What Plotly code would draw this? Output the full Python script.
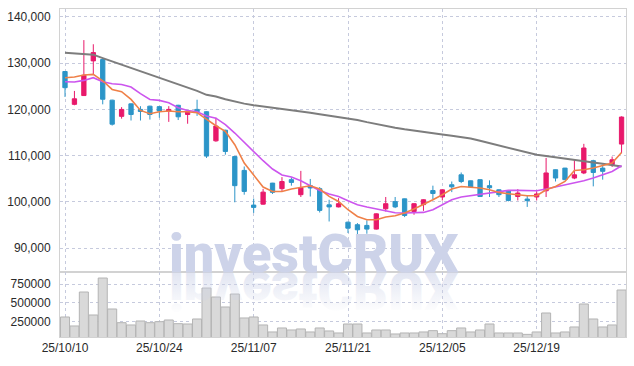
import plotly.graph_objects as go
from plotly.subplots import make_subplots

dates = [
    "2025-10-10", "2025-10-13", "2025-10-14", "2025-10-15", "2025-10-16", "2025-10-17",
    "2025-10-20", "2025-10-21", "2025-10-22", "2025-10-23", "2025-10-24",
    "2025-10-27", "2025-10-28", "2025-10-29", "2025-10-30", "2025-10-31",
    "2025-11-03", "2025-11-04", "2025-11-05", "2025-11-06", "2025-11-07",
    "2025-11-10", "2025-11-11", "2025-11-12", "2025-11-13", "2025-11-14",
    "2025-11-17", "2025-11-18", "2025-11-19", "2025-11-20", "2025-11-21",
    "2025-11-24", "2025-11-25", "2025-11-26", "2025-11-27", "2025-11-28",
    "2025-12-01", "2025-12-02", "2025-12-03", "2025-12-04", "2025-12-05",
    "2025-12-08", "2025-12-09", "2025-12-10", "2025-12-11", "2025-12-12",
    "2025-12-15", "2025-12-16", "2025-12-17", "2025-12-18", "2025-12-19",
    "2025-12-22", "2025-12-23", "2025-12-24", "2025-12-26", "2025-12-29",
    "2025-12-30", "2026-01-02", "2026-01-05", "2026-01-06",
]

opens = [128200, 121100, 123000, 130500, 130800, 122000, 118500, 121200, 120000, 120700,
         120600, 119650, 120900, 118900, 120000, 119500, 113200, 115500, 109800, 106800,
         99300, 99500, 104050, 102850, 104800, 101550, 103500, 102850, 99350, 98900,
         95600, 95050, 94900, 94100, 98500, 100050, 100650, 97900, 99400, 102450,
         101050, 103700, 105850, 104550, 104800, 103500, 102600, 102450, 101150, 100600,
         101050, 102400, 106950, 107300, 105150, 106250, 108900, 107300, 108050, 112500]
highs = [128300, 124000, 135000, 134100, 131000, 122100, 120500, 121300, 120700, 120800,
         120700, 120700, 121000, 119900, 122100, 119600, 118200, 115600, 109900, 107650,
         100700, 102800, 104100, 105350, 105300, 106700, 104950, 103200, 100450, 100800,
         95700, 95400, 96000, 97500, 101050, 101050, 100700, 99700, 100550, 103500,
         102700, 104400, 106350, 104600, 104850, 104650, 102700, 102500, 102750, 101300,
         102250, 109500, 107000, 107350, 109250, 112550, 109100, 108050, 109800, 118500]
lows = [122700, 120900, 122900, 127600, 121100, 116500, 118000, 117600, 117600, 117800,
        118200, 117300, 117700, 116900, 118600, 109500, 113000, 110200, 99900, 101550,
        97600, 99400, 101700, 102200, 103500, 101050, 101150, 97700, 95750, 98800,
        93250, 91400, 93100, 94000, 97900, 98650, 96700, 97200, 98050, 100600,
        100300, 102100, 104050, 103150, 101100, 101050, 101050, 100100, 100300, 98900,
        100300, 101050, 104400, 104700, 104900, 106000, 103350, 104800, 107550, 110550]
closes = [124700, 122300, 127400, 132300, 122200, 116800, 120000, 118900, 119550, 118900,
          119650, 120000, 118400, 119650, 119500, 109900, 116400, 110900, 103500, 102250,
          98800, 102100, 102050, 104400, 104200, 103100, 103000, 98150, 98900, 99600,
          94300, 93950, 94100, 97400, 99600, 98900, 97050, 99600, 100450, 101800,
          102600, 103250, 104400, 103200, 101150, 103050, 101550, 100300, 101900, 100250,
          101700, 106250, 105150, 104800, 105850, 111650, 106350, 106600, 109100, 118350]

ma5 = [126860, 127000, 127440, 127580, 126200, 124330, 123830, 122165, 119780, 119070,
       119500, 119650, 119500, 119500, 119290, 117840, 116470, 115240, 112360, 108400,
       105870, 103200, 102250, 102250, 102770, 103200, 103490, 102770, 101170, 100090,
       98290, 96840, 96130, 96130, 96710, 97000, 97580, 98440, 99370, 100450,
       101540, 102770, 103330, 103200, 102990, 102620, 102040, 101750, 101470, 101320,
       101320, 102620, 103330, 104420, 106800, 106950, 107320, 107810, 108400, 110690]
ma20 = [125990, 125930, 126280, 126860, 125990, 125560, 125410, 124850, 123400, 122160,
        121950, 121450, 120370, 119780, 119500, 118570, 118100, 116690, 114890, 112860,
        110910, 108900, 107100, 105800, 105370, 104570, 103490, 102470, 101690, 101170,
        100240, 99370, 98880, 98440, 98070, 97650, 97580, 97580, 97710, 98290,
        99370, 100450, 101040, 101320, 101540, 101900, 102250, 102470, 102470, 102400,
        102400, 102770, 103200, 103700, 104200, 104570, 105150, 105870, 106580, 107810]
ma60 = [132250, 132150, 132050, 131850, 131100, 130400, 129750, 129000, 128200, 127500,
        126850, 126200, 125500, 124800, 124000, 123150, 122800, 122200, 121700, 121250,
        120900, 120650, 120400, 120200, 119950, 119600, 119300, 118950, 118650, 118350,
        118050, 117700, 117250, 116800, 116450, 116050, 115700, 115450, 115230, 114900,
        114580, 114300, 114000, 113700, 113200, 112700, 112200, 111750, 111200, 110600,
        110200, 109900, 109600, 109250, 108950, 108700, 108500, 108250, 107950, 107650]

volumes = [308800, 188500, 643000, 335600, 830200, 415800, 232600, 201900, 255300, 232600,
           246000, 268700, 219300, 215200, 282100, 696500, 576200, 442500, 616300, 295500,
           308800, 201900, 108300, 161800, 135000, 148400, 108300, 161800, 121700, 94900,
           215200, 215200, 94900, 135000, 135000, 81500, 94900, 94900, 108300, 125700,
           85000, 125700, 161800, 108300, 135000, 215200, 94900, 94900, 94900, 76200,
           108300, 362300, 94900, 108300, 175100, 482600, 282100, 175100, 201900, 669800]

tick_idx = [0, 10, 20, 30, 40, 50]
tick_text = ["25/10/10", "25/10/24", "25/11/07", "25/11/21", "25/12/05", "25/12/19"]
price_ticks = [90000, 100000, 110000, 120000, 130000, 140000]
volume_ticks = [250000, 500000, 750000]
watermark = "investCRUX"

UP = "#e8196b"
DOWN = "#2c95c8"
GRID = "#c6cadd"
BORDER = "#d2d2d2"
FONT = dict(family="Liberation Sans, Arial, sans-serif", size=12, color="#2a2a2a")

fig = make_subplots(rows=2, cols=1, shared_xaxes=True, vertical_spacing=0,
                    row_heights=[0.802, 0.198])

fig.add_trace(go.Candlestick(
    x=dates, open=opens, high=highs, low=lows, close=closes,
    increasing=dict(line=dict(color=UP, width=1), fillcolor=UP),
    decreasing=dict(line=dict(color=DOWN, width=1), fillcolor=DOWN),
    whiskerwidth=0, showlegend=False, hoverinfo="skip"), row=1, col=1)

for vals, color, width in [(ma60, "#7d7d7d", 2), (ma20, "#cc55ee", 1.6), (ma5, "#ef8048", 1.6)]:
    fig.add_trace(go.Scatter(x=dates, y=vals, mode="lines",
                             line=dict(color=color, width=width),
                             showlegend=False, hoverinfo="skip"), row=1, col=1)

fig.add_trace(go.Bar(x=dates, y=volumes,
                     marker=dict(color="#d9d9d9", line=dict(color="#b4b4b4", width=1)),
                     showlegend=False, hoverinfo="skip"), row=2, col=1)

xcommon = dict(type="category", range=[-0.53, 59.47], showgrid=True, gridcolor=GRID,
               griddash="dot", gridwidth=1, tickvals=[dates[i] for i in tick_idx],
               ticktext=tick_text, showline=True, linecolor=BORDER, mirror=True,
               tickfont=FONT, ticks="", zeroline=False, automargin=False)
fig.update_xaxes(**xcommon)
fig.update_xaxes(rangeslider=dict(visible=False), showticklabels=False, row=1, col=1)
fig.update_xaxes(showticklabels=True, row=2, col=1)

ycommon = dict(showgrid=True, gridcolor=GRID, griddash="dot", gridwidth=1,
               showline=True, linecolor=BORDER, mirror=True, zeroline=False,
               tickfont=FONT, ticklabelstandoff=6, automargin=False)
fig.update_yaxes(range=[84805, 141730], tickvals=price_ticks, tickformat=",",
                 row=1, col=1, **ycommon)
fig.update_yaxes(range=[41000, 910000], tickvals=volume_ticks, tickformat="d",
                 row=2, col=1, **ycommon)

wm_font = dict(family="Roboto, Liberation Sans, sans-serif", size=54, color="#cdd3e9", weight=900)
for k in range(2):
    fig.add_annotation(text=watermark, xref="paper", yref="paper", x=0.4496, y=0.151,
                       xanchor="center", yanchor="bottom", showarrow=False, font=wm_font,
                       opacity=1.0 if k == 0 else 0.6)

fig.update_layout(width=634, height=366, margin=dict(l=60, r=8, t=9, b=29, autoexpand=False),
                  paper_bgcolor="white", plot_bgcolor="white", bargap=0.04,
                  boxgap=0.35, showlegend=False)

post = """
document.documentElement.style.margin = '0';
document.body.style.margin = '0';
document.body.style.padding = '0';
var gd = document.getElementById('{plot_id}');
function wmFlip() {
  try {
    var anns = gd.querySelectorAll('g.annotation');
    if (anns.length < 2) return;
    var ann = anns[1];
    var t = ann.querySelector('text');
    if (!t || t.getAttribute('data-flipped') === '1') return;
    var bb = t.getBBox();
    var by = bb.y + 0.79 * bb.height;
    try { by = t.getStartPositionOfChar(0).y; } catch (e) {}
    var prev = t.getAttribute('transform') || '';
    t.setAttribute('transform', prev + ' translate(0,' + (2 * by) + ') scale(1,-1)');
    t.setAttribute('data-flipped', '1');
    try {
      var ns = 'http://www.w3.org/2000/svg';
      var svg = ann.ownerSVGElement;
      if (!document.getElementById('wmfade')) {
        var defs = document.createElementNS(ns, 'defs');
        svg.appendChild(defs);
        var lg = document.createElementNS(ns, 'linearGradient');
        lg.setAttribute('id', 'wmfade');
        lg.setAttribute('x1', '0'); lg.setAttribute('y1', '0');
        lg.setAttribute('x2', '0'); lg.setAttribute('y2', '1');
        [['0.18', '0.05'], ['0.45', '0.45'], ['0.8', '1']].forEach(function(s) {
          var st = document.createElementNS(ns, 'stop');
          st.setAttribute('offset', s[0]);
          st.setAttribute('style', 'stop-color:#cdd3e9;stop-opacity:' + s[1]);
          lg.appendChild(st);
        });
        defs.appendChild(lg);
      }
      t.style.setProperty('fill', 'url(#wmfade) #cdd3e9');
    } catch (e2) {}
  } catch (err) {}
}
wmFlip();
if (gd.on) { gd.on('plotly_afterplot', wmFlip); }
setTimeout(wmFlip, 50);
"""

fig.write_html("out.html", post_script=post, config={"displayModeBar": False, "responsive": False})
